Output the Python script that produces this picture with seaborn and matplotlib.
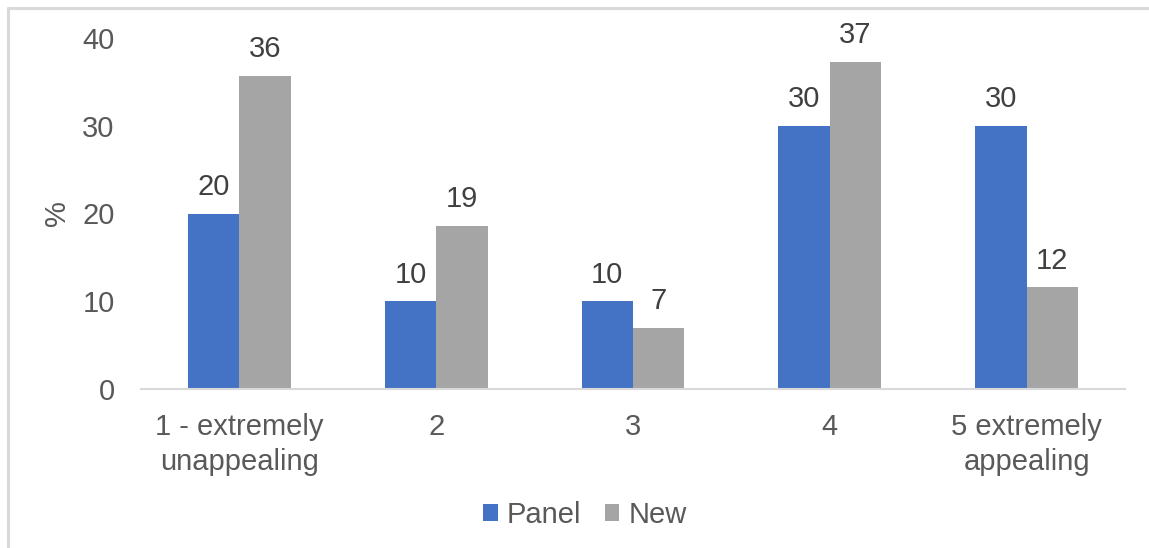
import matplotlib
matplotlib.use("Agg")
import matplotlib.pyplot as plt
from matplotlib.lines import Line2D
import pandas as pd
import seaborn as sns

# Survey answers: share of respondents per rating (%)
categories = ["1 - extremely\nunappealing", "2", "3", "4", "5 extremely\nappealing"]
panel = [20, 10, 10, 30, 30]
new = [35.7, 18.6, 7.0, 37.3, 11.6]
series = ["Panel", "New"]
colors = ["#4472C4", "#A5A5A5"]
yticks = [0, 10, 20, 30, 40]

df = pd.DataFrame({
    "category": categories * 2,
    "value": panel + new,
    "series": [series[0]] * len(categories) + [series[1]] * len(categories),
})

sns.set_theme(style="white")
plt.rcParams["font.family"] = ["Liberation Sans", "DejaVu Sans"]
text_color = "#595959"
fs = 21

fig = plt.figure(figsize=(11.49, 5.48), dpi=100)
ax = fig.add_axes([141 / 1149, 1 - 389 / 548, (1125 - 141) / 1149, (389 - 38) / 548])

sns.barplot(data=df, x="category", y="value", hue="series", hue_order=series,
            palette=colors, saturation=1, width=0.523, gap=0, ax=ax,
            order=categories, legend=True, linewidth=0, edgecolor="none")

for cont, vals in zip(ax.containers, [panel, new]):
    ax.bar_label(cont, labels=[f"{v:.0f}" for v in vals], padding=9,
                 fontsize=fs, color="#404040")

ax.set_ylim(0, 40)
ax.set_xlim(-0.5, len(categories) - 0.5)
ax.set_yticks(yticks)
ax.set_yticklabels([str(t) for t in yticks])
ax.tick_params(axis="both", length=0, labelsize=fs, colors=text_color)
ax.tick_params(axis="y", pad=19)
ax.tick_params(axis="x", pad=17)
for lbl in ax.get_xticklabels():
    lbl.set_linespacing(1.35)
ax.set_xlabel("")
ax.set_ylabel("%", fontsize=fs, color=text_color, labelpad=8)
for side in ["left", "right", "top"]:
    ax.spines[side].set_visible(False)
ax.spines["bottom"].set_color("#D9D9D9")
ax.spines["bottom"].set_linewidth(1.5)
ax.grid(False)

handles, labels = ax.get_legend_handles_labels()
ax.legend_.remove()
leg = fig.legend(handles, labels, loc="center", bbox_to_anchor=(585 / 1149, 1 - 515 / 548),
                 ncol=2, frameon=False, fontsize=fs, handlelength=0.5, handleheight=0.5,
                 handletextpad=0.32, columnspacing=0.8, labelcolor=text_color)

# Chart area outline
fig.add_artist(Line2D([8 / 1149, 8 / 1149], [0, 1 - 8 / 548], transform=fig.transFigure,
                      color="#D9D9D9", linewidth=2.2))
fig.add_artist(Line2D([8 / 1149, 1], [1 - 8 / 548, 1 - 8 / 548], transform=fig.transFigure,
                      color="#D9D9D9", linewidth=2.2))

fig.savefig("out.png", dpi=100)
